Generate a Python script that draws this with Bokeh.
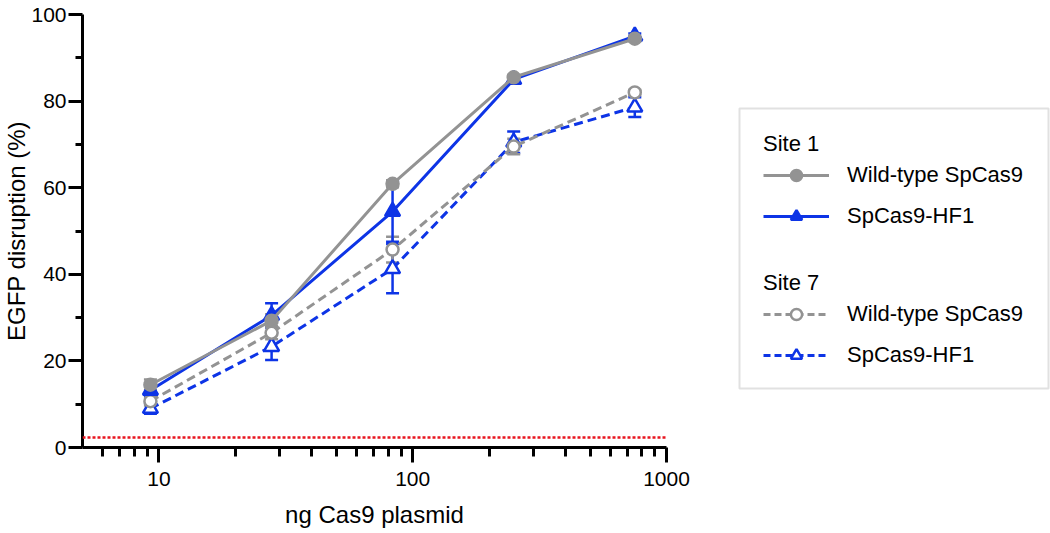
from bokeh.plotting import figure
from bokeh.models import (Range1d, FixedTicker, PrintfTickFormatter, Whisker, TeeHead,
                          ColumnDataSource, Span, Legend, LegendItem, BoxAnnotation)
from bokeh.layouts import row
from bokeh.embed import file_html
from bokeh.resources import INLINE

# ---- data ----
doses = [9.26, 27.8, 83.3, 250, 750]
site1_wt = [14.5, 29.3, 60.9, 85.5, 94.4]
site1_wt_err = [1.2, 1.5, 0.8, 0.6, 0.6]
site1_hf1 = [13.2, 30.5, 54.5, 85.0, 95.0]
site1_hf1_err = [1.2, 2.8, 7.0, 0.8, 0.6]
site7_wt = [10.7, 26.5, 45.7, 69.5, 82.0]
site7_wt_err = [1.0, 1.5, 3.0, 1.8, 0.6]
site7_hf1 = [9.0, 23.3, 41.3, 70.5, 78.6]
site7_hf1_err = [1.2, 3.1, 5.7, 2.5, 2.3]
baseline = 2.3
x_ticks = [10, 100, 1000]
x_minor = [6, 7, 8, 9, 20, 30, 40, 50, 60, 70, 80, 90, 200, 300, 400, 500, 600, 700, 800, 900]
y_ticks = [0, 20, 40, 60, 80, 100]
y_minor = [10, 30, 50, 70, 90]
label_wt = "Wild-type SpCas9"
label_hf1 = "SpCas9-HF1"

GRAY = "#939393"
BLUE = "#0d34e6"
FONT = "Liberation Sans"

TOP, BOTTOM = 14, 86

p = figure(width=730, height=533, x_axis_type="log",
           x_range=Range1d(5, 1000), y_range=Range1d(0, 100),
           output_backend="svg", toolbar_location=None,
           min_border_left=82, min_border_right=64, min_border_top=TOP, min_border_bottom=BOTTOM)
p.outline_line_color = None
p.grid.visible = False
p.background_fill_color = "white"

p.xaxis.ticker = FixedTicker(ticks=x_ticks, minor_ticks=x_minor)
p.xaxis.formatter = PrintfTickFormatter(format="%d")
p.yaxis.ticker = FixedTicker(ticks=y_ticks, minor_ticks=y_minor)
p.xaxis.major_tick_out = 15
p.xaxis.minor_tick_out = 9
p.yaxis.major_tick_out = 14
p.yaxis.minor_tick_out = 7
for ax in (p.xaxis, p.yaxis):
    ax.major_tick_in = 0
    ax.minor_tick_in = 0
    ax.axis_line_width = 3
    ax.major_tick_line_width = 3
    ax.minor_tick_line_width = 3
    ax.axis_line_color = "black"
    ax.major_tick_line_color = "black"
    ax.minor_tick_line_color = "black"
    ax.major_label_text_font = FONT
    ax.major_label_text_font_size = "21px"
    ax.major_label_text_color = "black"
    ax.axis_label_text_font = FONT
    ax.axis_label_text_font_size = "24px"
    ax.axis_label_text_font_style = "normal"
    ax.axis_label_text_color = "black"
p.xaxis.axis_label = "ng Cas9 plasmid"
p.yaxis.axis_label = "EGFP disruption (%)"
p.xaxis.major_label_standoff = 9
p.xaxis.axis_label_standoff = 12
p.yaxis.major_label_standoff = 2
p.yaxis.axis_label_standoff = -2

p.add_layout(Span(location=baseline, dimension="width", line_color="#e8141e",
                  line_dash="3 2", line_width=2.5))

series = [
    (site7_hf1, site7_hf1_err, BLUE, "triangle", False, "dashed"),
    (site7_wt, site7_wt_err, GRAY, "circle", False, "dashed"),
    (site1_hf1, site1_hf1_err, BLUE, "triangle", True, "solid"),
    (site1_wt, site1_wt_err, GRAY, "circle", True, "solid"),
]

for vals, errs, color, marker, filled, dash in series:
    src = ColumnDataSource(dict(x=doses, y=vals,
                                lo=[v - e for v, e in zip(vals, errs)],
                                hi=[v + e for v, e in zip(vals, errs)]))
    w = Whisker(source=src, base="x", upper="hi", lower="lo", dimension="height",
                line_color=color, line_width=2.5,
                upper_head=TeeHead(size=13, line_color=color, line_width=2.5),
                lower_head=TeeHead(size=13, line_color=color, line_width=2.5))
    p.add_layout(w)

def draw(fig, vals, color, marker, filled, dash, dashpat):
    src = ColumnDataSource(dict(x=doses, y=vals))
    r1 = fig.line("x", "y", source=src, line_color=color, line_width=3,
                  line_dash=("solid" if dash == "solid" else dashpat))
    size = 15 if marker == "triangle" else 12
    r2 = fig.scatter("x", "y", source=src, marker=marker, size=size,
                     line_color=color, line_width=2.5,
                     fill_color=(color if filled else "white"))
    return [r1, r2]

for vals, errs, color, marker, filled, dash in series:
    draw(p, vals, color, marker, filled, dash, "9 5")

# ---- legend panel (same series, drawn off-range so only the legend shows) ----
lg = figure(width=320, height=533, output_backend="svg", toolbar_location=None,
            x_axis_location=None, y_axis_location=None,
            min_border_left=0, min_border_right=0, min_border_top=TOP, min_border_bottom=BOTTOM,
            x_range=Range1d(-2, -1), y_range=Range1d(-2, -1))
lg.grid.visible = False
lg.outline_line_color = None
lg.add_layout(BoxAnnotation(left=9, right=318, bottom=59, top=339,
                            left_units="screen", right_units="screen",
                            bottom_units="screen", top_units="screen",
                            fill_alpha=0, line_color="#9b9b9b", line_width=2))

def make_legend(title, items, loc):
    leg = Legend(items=items, title=title, location=loc,
                 padding=0, margin=0, spacing=13, glyph_width=66, glyph_height=28,
                 label_standoff=18, title_standoff=4,
                 border_line_alpha=0, background_fill_alpha=0,
                 label_text_font=FONT, label_text_font_size="22px",
                 title_text_font=FONT, title_text_font_size="22px",
                 title_text_font_style="normal", label_text_color="black",
                 title_text_color="black")
    lg.add_layout(leg)

s7h, s7w, s1h, s1w = series
make_legend("Site 1", [
    LegendItem(label=label_wt, renderers=draw(lg, s1w[0], GRAY, "circle", True, "solid", "7 4")),
    LegendItem(label=label_hf1, renderers=draw(lg, s1h[0], BLUE, "triangle", True, "solid", "7 4")),
], (33, 217))
make_legend("Site 7", [
    LegendItem(label=label_wt, renderers=draw(lg, s7w[0], GRAY, "circle", False, "dashed", "7 4")),
    LegendItem(label=label_hf1, renderers=draw(lg, s7h[0], BLUE, "triangle", False, "dashed", "7 4")),
], (33, 78))

layout = row(p, lg)
open("out.html", "w").write(file_html(layout, INLINE))
